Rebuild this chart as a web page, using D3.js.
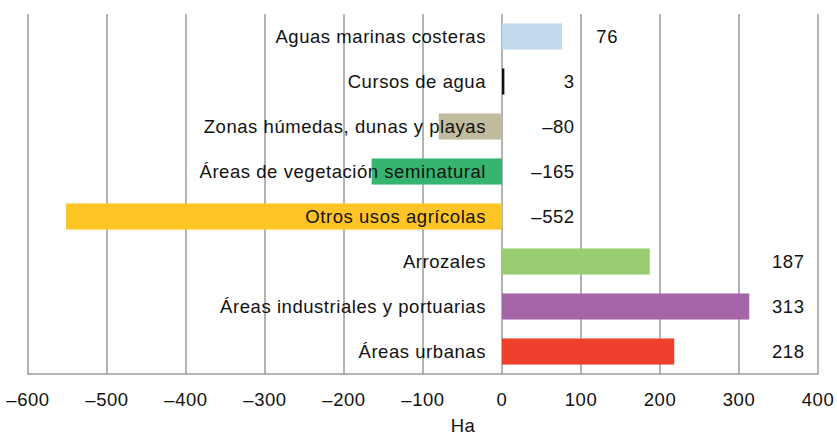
<!DOCTYPE html>
<html><head><meta charset="utf-8">
<script src="https://cdn.jsdelivr.net/npm/d3@7"></script>
<style>body{margin:0;background:#fff}svg{display:block}text{font-family:"Liberation Sans",Arial,Helvetica,sans-serif;letter-spacing:0.55px}</style>
</head><body><svg id="c" width="837" height="437"></svg>
<script>
const categories = ["Aguas marinas costeras","Cursos de agua","Zonas húmedas, dunas y playas","Áreas de vegetación seminatural","Otros usos agrícolas","Arrozales","Áreas industriales y portuarias","Áreas urbanas"];
const values = [76, 3, -80, -165, -552, 187, 313, 218];
const colors = ["#c2d9ee","#111111","#c2bc9f","#35b56f","#ffc425","#98cd72","#a566a8","#ee402c"];
const xTicks = [-600,-500,-400,-300,-200,-100,0,100,200,300,400];
const xTitle = "Ha";

const svg = d3.select("#c");
const x = d3.scaleLinear().domain([-600,400]).range([28,818]);
const y = d3.scaleBand().domain(categories).range([14,374]).paddingInner(0.42).paddingOuter(0.21);
const fs = 18.5;

// gridlines
svg.append("g").selectAll("line").data(xTicks).join("line")
  .attr("x1",d=>x(d)).attr("x2",d=>x(d)).attr("y1",14).attr("y2",374)
  .attr("stroke","#9a9a9a").attr("stroke-width",1.5);
svg.append("line").attr("x1",x(-600)-0.75).attr("x2",x(400)+0.75).attr("y1",374).attr("y2",374)
  .attr("stroke","#9a9a9a").attr("stroke-width",1.5);

// bars
svg.append("g").selectAll("rect").data(values).join("rect")
  .attr("x",d=>x(Math.min(0,d))).attr("width",(d,i)=>Math.max(2,Math.abs(x(d)-x(0))))
  .attr("y",(d,i)=>y(categories[i])).attr("height",y.bandwidth())
  .attr("fill",(d,i)=>colors[i]);

// category labels
svg.append("g").selectAll("text").data(categories).join("text")
  .attr("x",x(0)-16).attr("y",d=>y(d)+y.bandwidth()/2).attr("dy","0.36em")
  .attr("text-anchor","end").attr("font-size",fs).attr("fill","#111").text(d=>d);

// value labels
function labelX(v){
  if (v > 100) return x(383);
  if (v > 50) return x(v) + 56;
  return x(92);
}
const fmt = v => (v<0 ? "\u2013"+Math.abs(v) : String(v));
svg.append("g").selectAll("text").data(values).join("text")
  .attr("x",d=>labelX(d)).attr("y",(d,i)=>y(categories[i])+y.bandwidth()/2).attr("dy","0.36em")
  .attr("text-anchor","end").attr("font-size",fs).attr("fill","#111").text(fmt);

// axis tick labels
svg.append("g").selectAll("text").data(xTicks).join("text")
  .attr("x",d=>x(d)).attr("y",406).attr("text-anchor","middle")
  .attr("font-size",fs).attr("fill","#111").text(fmt);

svg.append("text").attr("x",463).attr("y",432).attr("text-anchor","middle")
  .attr("font-size",fs).attr("fill","#111").text(xTitle);
</script></body></html>
